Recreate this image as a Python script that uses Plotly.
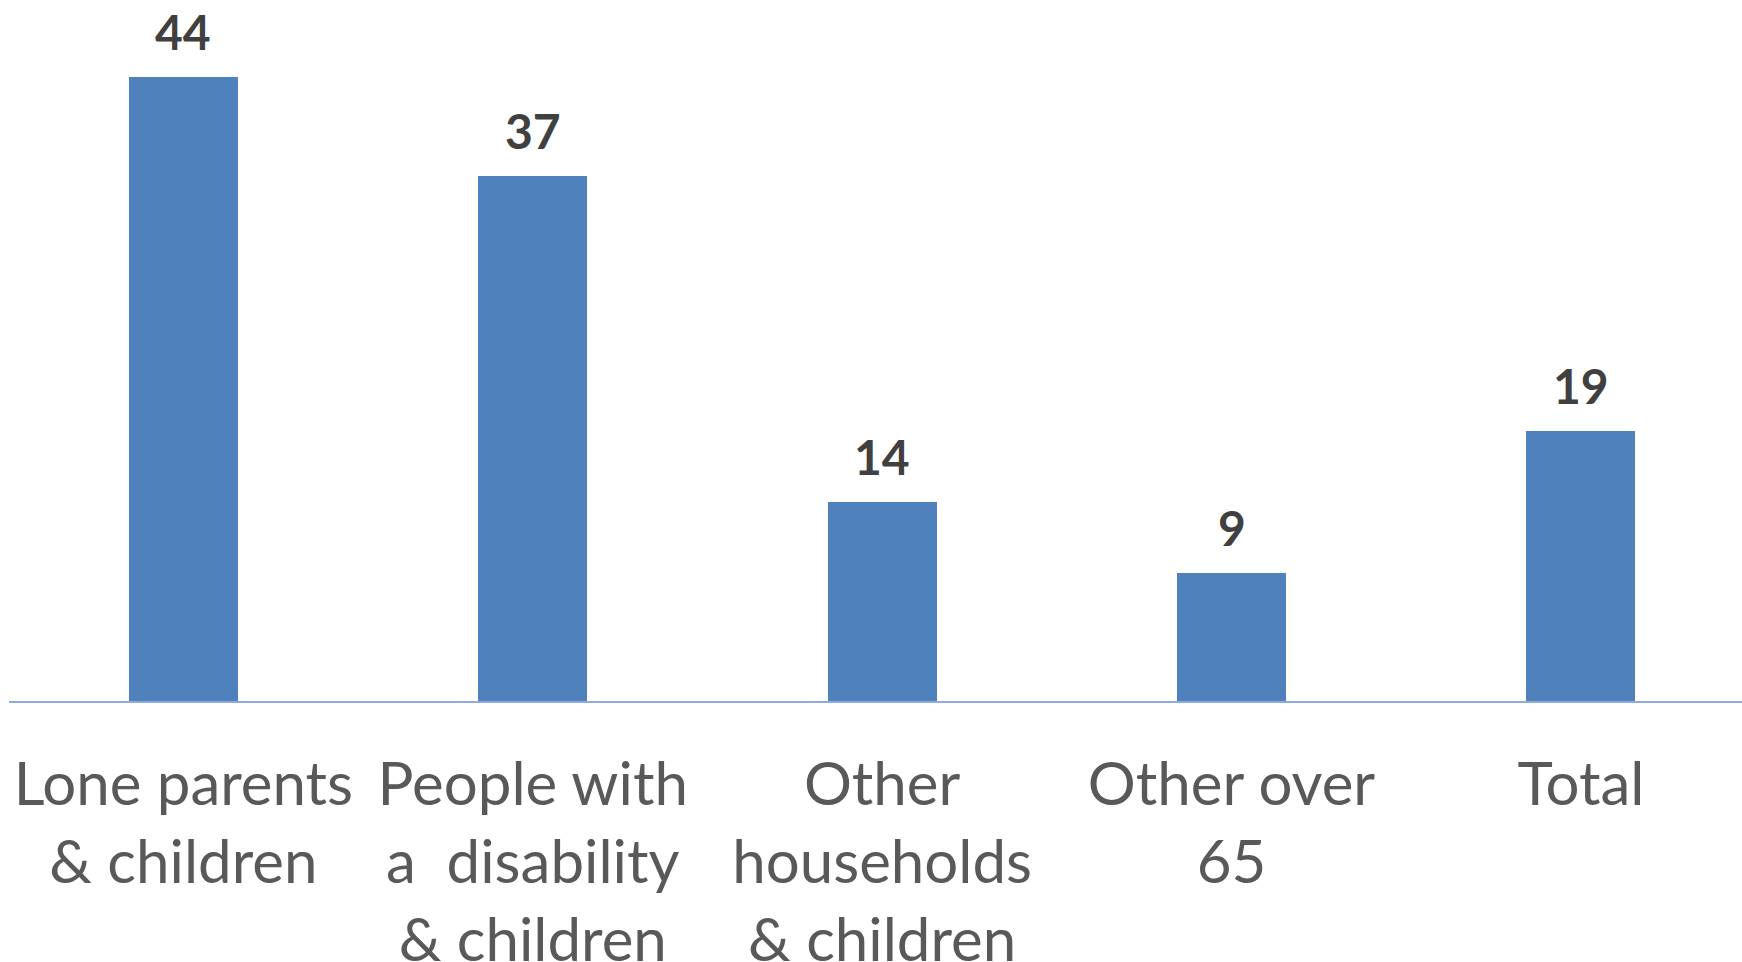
import plotly.graph_objects as go

categories = ["Lone parents<br>& children",
              "People with<br>a\u00a0 disability<br>& children",
              "Other<br>households<br>& children",
              "Other over<br>65",
              "Total"]
values = [44, 37, 14, 9, 19]
labels = ["44", "37", "14", "9", "19"]

x_idx = list(range(len(categories)))

fig = go.Figure()
fig.add_trace(go.Bar(
    x=x_idx, y=values, width=0.312,
    marker=dict(color="#4F81BD", line=dict(width=0)),
    hoverinfo="skip",
))

for xi, v, t in zip(x_idx, values, labels):
    fig.add_annotation(x=xi, y=v, text=t, showarrow=False,
                       yanchor="bottom", yshift=15,
                       font=dict(family="Lato", size=48, color="#404040", weight="bold"))

fig.update_layout(
    width=1742, height=962,
    margin=dict(l=9, r=0, t=0, b=261, autoexpand=False),
    paper_bgcolor="white", plot_bgcolor="white",
    showlegend=False,
    bargap=0,
)
fig.update_xaxes(
    range=[-0.499, 4.461],
    tickmode="array", tickvals=x_idx, ticktext=categories,
    tickfont=dict(family="Lato", size=60, color="#595959"),
    showline=True, linecolor="#8FAADC", linewidth=2,
    showgrid=False, zeroline=False, ticks="",
    ticklabelstandoff=30, automargin=False,
)
fig.update_yaxes(range=[0, 49.4], visible=False, showgrid=False, zeroline=False,
                 automargin=False)

fig.write_html("out.html")
